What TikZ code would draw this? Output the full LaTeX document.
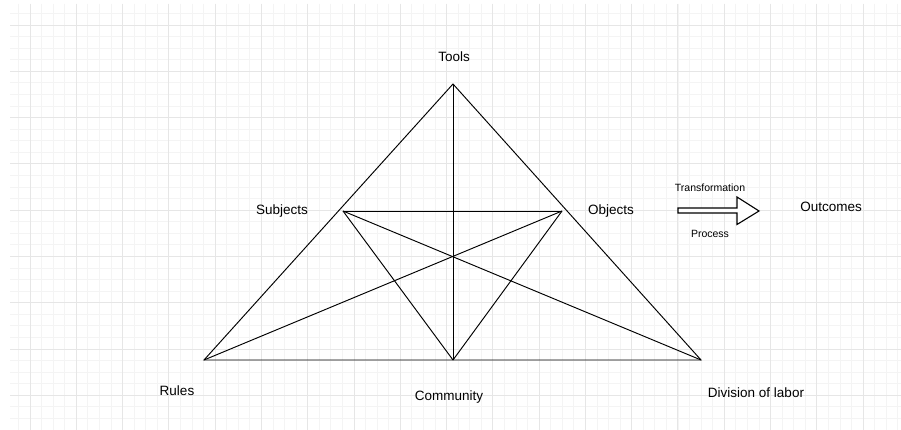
\documentclass[tikz,border=0pt]{standalone}
\usepackage{fontspec}
\setmainfont{Liberation Sans}
\usepackage{tikz}
\usetikzlibrary{calc}

\definecolor{gridminor}{HTML}{F4F4F4}
\definecolor{gridmajor}{HTML}{E6E6E6}

\tikzset{
  lbl/.style={font=\fontsize{13.5}{15}\selectfont, inner sep=0pt},
  smalllbl/.style={font=\fontsize{10.5}{12}\selectfont, inner sep=0pt},
  edge/.style={line width=0.95pt, black}
}

\begin{document}
\begin{tikzpicture}[x=1pt, y=-1pt]
  % page 901 x 430, y runs downwards
  \useasboundingbox (0,0) rectangle (901,430);
  \fill[white] (0,0) rectangle (901,430);

  % Grid background
  \begin{scope}
    \clip (10,4) rectangle (901,430);
    \foreach \k in {-1,...,75} {
      \draw[gridminor, line width=0.8pt] (30+11.57*\k,4) -- (30+11.57*\k,430);
    }
    \foreach \k in {-1,...,36} {
      \draw[gridminor, line width=0.8pt] (10,25+11.57*\k) -- (901,25+11.57*\k);
    }
    \foreach \k in {0,...,19} {
      \draw[gridmajor, line width=0.9pt] (30+46.28*\k,4) -- (30+46.28*\k,430);
    }
    \foreach \k in {0,...,9} {
      \draw[gridmajor, line width=0.9pt] (10,25+46.28*\k) -- (901,25+46.28*\k);
    }
  \end{scope}

  % Corner points of the activity triangle
  \coordinate (apex) at (453,84);
  \coordinate (pR) at (204,360);
  \coordinate (pD) at (701,360);
  \coordinate (pC) at (453,360);
  \coordinate (pS) at (343,211);
  \coordinate (pO) at (562,211);

  % Outer triangle
  \draw[edge] (apex) -- (pR) -- (pD) -- cycle;
  % Inner lines
  \draw[edge] (apex) -- (pC);
  \draw[edge] (pS) -- (pO);
  \draw[edge] (pS) -- (pD);
  \draw[edge] (pO) -- (pR);
  \draw[edge] (pS) -- (pC);
  \draw[edge] (pO) -- (pC);

  % Labels
  \node[lbl] (tools) at (454,57) {Tools};
  \node[lbl] (subj) at (282,211) {Subjects};
  \node[lbl] (obj) at (611,211) {Objects};
  \node[lbl] (rules) at (177,391) {Rules};
  \node[lbl] (comm) at (449,397) {Community};
  \node[lbl] (divlab) at (756,393) {Division of labor};
  \node[lbl] (outc) at (831,207) {Outcomes};

  % Transformation arrow
  \draw[line width=1.1pt, fill=white]
    (678,208) -- (737,208) -- (737,197) -- (759,211) -- (737,224.5)
    -- (737,213) -- (678,213) -- cycle;
  \node[smalllbl] (transf) at (710,188) {Transformation};
  \node[smalllbl] (proc) at (710,234) {Process};
\end{tikzpicture}
\end{document}
